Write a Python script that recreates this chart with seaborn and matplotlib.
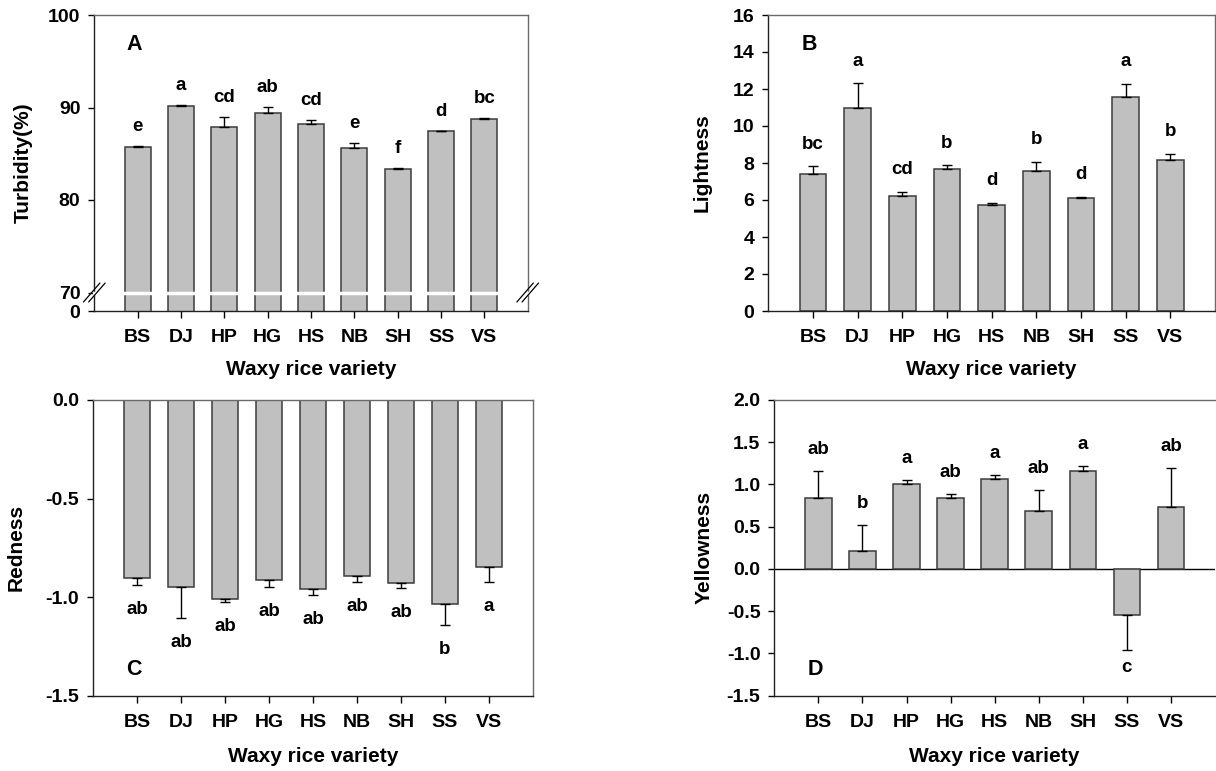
import numpy as np
import pandas as pd
import matplotlib
matplotlib.use("Agg")
import matplotlib.pyplot as plt
import seaborn as sns

# -----------------------------
# DATA
# -----------------------------
varieties = ["BS", "DJ", "HP", "HG", "HS", "NB", "SH", "SS", "VS"]

turbidity = [85.69, 90.14, 87.93, 89.38, 88.26, 85.62, 83.33, 87.46, 88.77]
turbidity_err = [0.14, 0.18, 1.09, 0.69, 0.36, 0.58, 0.18, 0.04, 0.11]
turbidity_grp = ["e", "a", "cd", "ab", "cd", "e", "f", "d", "bc"]

lightness = [7.42, 10.99, 6.20, 7.66, 5.73, 7.55, 6.11, 11.55, 8.16]
lightness_err = [0.40, 1.32, 0.25, 0.21, 0.13, 0.52, 0.07, 0.74, 0.34]
lightness_grp = ["bc", "a", "cd", "b", "d", "b", "d", "a", "b"]

redness = [-0.902, -0.950, -1.011, -0.914, -0.958, -0.892, -0.929, -1.034, -0.846]
redness_err = [0.036, 0.154, 0.015, 0.034, 0.031, 0.031, 0.027, 0.107, 0.077]
redness_grp = ["ab", "ab", "ab", "ab", "ab", "ab", "ab", "b", "a"]

yellowness = [0.837, 0.208, 1.002, 0.837, 1.060, 0.683, 1.155, -0.550, 0.734]
yellowness_err = [0.326, 0.314, 0.055, 0.047, 0.048, 0.256, 0.063, 0.408, 0.464]
yellowness_grp = ["ab", "b", "a", "ab", "a", "ab", "a", "c", "ab"]

# -----------------------------
# STYLE
# -----------------------------
sns.set_style("ticks")
plt.rcParams["font.family"] = ["Liberation Sans", "DejaVu Sans"]
plt.rcParams["font.weight"] = "bold"
plt.rcParams["axes.labelweight"] = "bold"
for k in ["text.color", "axes.labelcolor", "xtick.color", "ytick.color"]:
    plt.rcParams[k] = "black"

BAR_COLOR = "#c0c0c0"
EDGE_COLOR = "#3c3c3c"
TICK_FS = 14
LABEL_FS = 15
GRP_FS = 13.5

df = pd.DataFrame({
    "variety": varieties,
    "Turbidity": turbidity,
    "Lightness": lightness,
    "Redness": redness,
    "Yellowness": yellowness,
})

fig = plt.figure(figsize=(12.16, 7.71), dpi=100)
W, H = 1216, 771


def make_ax(left, right, top, bottom):
    return fig.add_axes([left / W, 1 - bottom / H, (right - left) / W, (bottom - top) / H])


def draw_panel(ax, col, errs, groups, ylim, yticks, yticklabels, ylabel, letter,
               letter_y, up_off, down_off, ylab_x, xlab_y):
    sns.barplot(data=df, x="variety", y=col, color=BAR_COLOR, saturation=1,
                edgecolor=EDGE_COLOR, linewidth=1.1, width=0.6, errorbar=None, ax=ax, zorder=2)
    means = np.array(df[col])
    errs = np.array(errs)
    xs = np.arange(len(means))
    lower = np.where(means < 0, errs, 0)
    upper = np.where(means >= 0, errs, 0)
    ax.errorbar(xs, means, yerr=[lower, upper], fmt="none", ecolor="black",
                elinewidth=1, capsize=3.5, capthick=1, zorder=3)
    for x, m, e, g in zip(xs, means, errs, groups):
        if m >= 0:
            ax.annotate(g, xy=(x, m + e), xytext=(0, up_off), textcoords="offset points",
                        ha="center", va="baseline", fontsize=GRP_FS, fontweight="bold")
        else:
            ax.annotate(g, xy=(x, m - e), xytext=(0, down_off), textcoords="offset points",
                        ha="center", va="baseline", fontsize=GRP_FS, fontweight="bold")

    ax.set_xlim(-1, len(means))
    ax.set_ylim(*ylim)
    ax.set_yticks(yticks)
    ax.set_yticklabels(yticklabels)
    ax.tick_params(axis="x", direction="out", length=5, width=1, pad=8, labelsize=TICK_FS)
    ax.tick_params(axis="y", direction="out", length=4, width=1, pad=6, labelsize=TICK_FS)
    for t in ax.get_xticklabels() + ax.get_yticklabels():
        t.set_fontweight("bold")
    ax.set_xlabel("Waxy rice variety", fontsize=LABEL_FS, fontweight="bold")
    ax.set_ylabel(ylabel, fontsize=LABEL_FS, fontweight="bold")
    ax.xaxis.set_label_coords(0.5, xlab_y)
    ax.yaxis.set_label_coords(ylab_x, 0.5)
    for s in ["left", "bottom"]:
        ax.spines[s].set_color("#202020")
        ax.spines[s].set_linewidth(1)
    for s in ["top", "right"]:
        ax.spines[s].set_color("#6a6a6a")
        ax.spines[s].set_linewidth(1)
    ax.text(0.075, letter_y, letter, transform=ax.transAxes, fontsize=15.5,
            fontweight="bold", ha="left", va="center")


# A: Turbidity with broken axis
axA = make_ax(94.3, 527.7, 15, 311)
draw_panel(axA, "Turbidity", turbidity_err, turbidity_grp, (68, 100),
           [68, 70, 80, 90, 100], ["0", "70", "80", "90", "100"], "Turbidity(%)", "A",
           0.9, 10.8, 0, -0.142, -0.165)
axA.axhline(70, color="white", lw=2.5, zorder=4, clip_on=False)
brk = 0.0625
for xc in [0.0, 1.0]:
    for dx in [-0.006, 0.006]:
        axA.plot([xc + dx - 0.019, xc + dx + 0.019], [brk - 0.032, brk + 0.032],
                 transform=axA.transAxes, color="black", lw=0.9, clip_on=False, zorder=6)

# B: Lightness
axB = make_ax(768.3, 1215, 15, 311)
draw_panel(axB, "Lightness", lightness_err, lightness_grp, (0, 16),
           np.arange(0, 17, 2), [str(v) for v in range(0, 17, 2)], "Lightness", "B",
           0.9, 12.6, 0, -0.127, -0.165)

# C: Redness
axC = make_ax(93, 533, 400, 695.7)
draw_panel(axC, "Redness", redness_err, redness_grp, (-1.5, 0),
           [-1.5, -1.0, -0.5, 0.0], ["-1.5", "-1.0", "-0.5", "0.0"], "Redness", "C",
           0.09, 0, -20.9, -0.152, -0.172)

# D: Yellowness
axD = make_ax(774.3, 1215, 400, 695.7)
draw_panel(axD, "Yellowness", yellowness_err, yellowness_grp, (-1.5, 2.0),
           np.arange(-1.5, 2.01, 0.5), ["-1.5", "-1.0", "-0.5", "0.0", "0.5", "1.0", "1.5", "2.0"],
           "Yellowness", "D", 0.09, 12.2, -15.6, -0.138, -0.172)
axD.axhline(0, color="black", lw=1, zorder=1)
axD.spines["right"].set_visible(False)

fig.savefig("out.png", dpi=100)
plt.close(fig)
